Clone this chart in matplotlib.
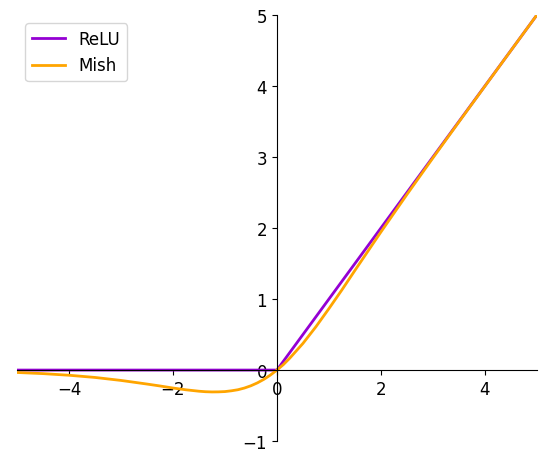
import numpy as np
import matplotlib.pyplot as plt

# values
relu_x = [-5, 0, 5]
relu_y = [0, 0, 5]

mish_x = [-5, -4.5, -4, -3.5, -3, -2.5, -2.25, -2, -1.75, -1.5, -1.375, -1.25, -1.125, -1,
          -0.875, -0.75, -0.625, -0.5, -0.375, -0.25, -0.125, 0, 0.125, 0.25, 0.5, 0.75,
          1, 1.25, 1.5, 2, 2.5, 3, 3.5, 4, 4.5, 5]
mish_y = [-0.034, -0.050, -0.073, -0.104, -0.146, -0.197, -0.224, -0.253, -0.278,
          -0.298, -0.305, -0.308, -0.307, -0.303, -0.292, -0.277, -0.253, -0.221,
          -0.180, -0.130, -0.070, 0.0, 0.078, 0.170, 0.375, 0.610,
          0.865, 1.129, 1.403, 1.944, 2.472, 2.987, 3.494, 3.997, 4.499, 5.0]

x_ticks = [-4, -2, 0, 2, 4]
y_ticks = [-1, 0, 1, 2, 3, 4, 5]

fig = plt.figure(figsize=(5.5, 4.6), dpi=100)
ax = fig.add_axes([0.031, 0.039, 0.945, 0.926])

ax.plot(relu_x, relu_y, color='darkviolet', linewidth=2, label='ReLU')
ax.plot(mish_x, mish_y, color='orange', linewidth=2, label='Mish')

ax.spines['left'].set_position(('data', 0))
ax.spines['bottom'].set_position(('data', 0))
ax.spines['top'].set_visible(False)
ax.spines['right'].set_visible(False)

ax.set_xlim(-5, 5)
ax.set_ylim(-1, 5)
ax.set_xticks(x_ticks)
ax.set_yticks(y_ticks)
ax.tick_params(labelsize=12)

ax.legend(loc='upper left', fontsize=12, bbox_to_anchor=(0.0, 1.0))

fig.savefig('out.png', dpi=100)
